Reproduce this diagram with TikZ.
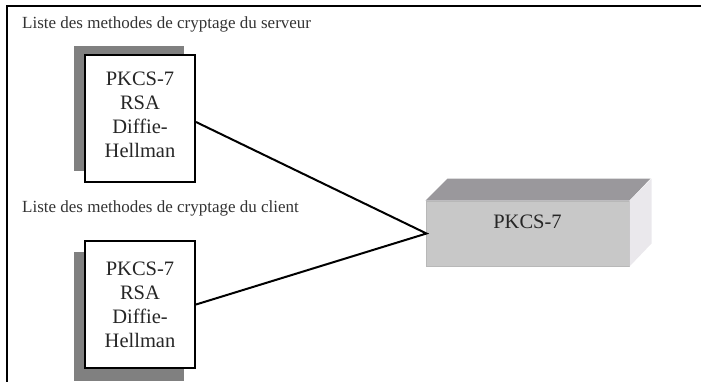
\documentclass[tikz,border=0pt]{standalone}
\usepackage{fontspec}
\setmainfont{Liberation Serif}
\begin{document}
\begin{tikzpicture}[x=1pt,y=-1pt,
  listbox/.style={draw=black,line width=2pt,fill=white,minimum width=110pt,minimum height=127pt,
    inner sep=0pt,align=center,font=\fontsize{20.5}{24}\selectfont,text=black!85},
  lbl/.style={anchor=base west,inner sep=0pt,font=\fontsize{17}{20}\selectfont,text=black!80},
  conn/.style={line width=2pt,black}]
\useasboundingbox (0,0) rectangle (701,381);
\definecolor{shadowgray}{HTML}{808080}
\definecolor{frontgray}{HTML}{C8C8C8}
\definecolor{frontedge}{HTML}{B8B8B8}
\definecolor{topgray}{HTML}{9A989C}
\definecolor{sidegray}{HTML}{EAE8EC}
% frame
\draw[line width=2pt] (7,382) -- (7,5.5) -- (702,5.5);
% labels
\node[lbl] (lserv) at (22,28) {Liste des methodes de cryptage du serveur};
\node[lbl] (lcli) at (22,212) {Liste des methodes de cryptage du client};
% shadows
\fill[shadowgray] (74,46) rectangle (184,171);
\fill[shadowgray] (74,252) rectangle (184,381);
% list boxes
\node[listbox,text depth=8pt] (srv) at (140,118.5) {PKCS-7\\RSA\\Diffie-\\Hellman};
\node[listbox] (cli) at (140,304.5) {PKCS-7\\RSA\\Diffie-\\Hellman};
% 3D box
\node[fill=frontgray,draw=frontedge,line width=1pt,minimum width=203pt,minimum height=65pt,inner sep=0pt] (pk) at (527.5,233.5) {};
\fill[topgray] (pk.north west) -- ++(22,-22) -- ++(203,0) -- (pk.north east) -- cycle;
\fill[sidegray] (pk.north east) -- ++(22,-22) -- ++(0,65) -- (pk.south east) -- cycle;
\node[inner sep=0pt,font=\fontsize{20.5}{24}\selectfont,text=black!85] (pktext) at ([yshift=11.5pt]pk.center) {PKCS-7};
% connectors
\coordinate (meet) at ([xshift=1pt]pk.west);
\draw[conn] ([yshift=-3.5pt]srv.east) -- (meet) -- (cli.east);
\end{tikzpicture}
\end{document}
